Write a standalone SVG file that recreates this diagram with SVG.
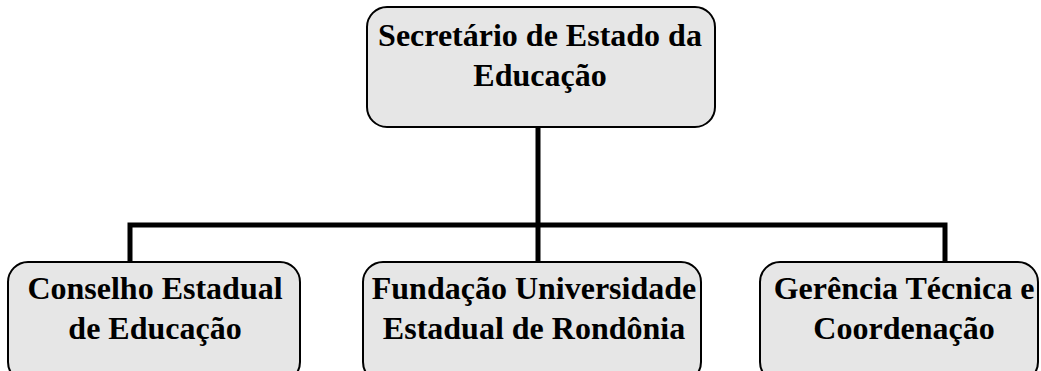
<svg xmlns="http://www.w3.org/2000/svg" width="1041" height="371" viewBox="0 0 1041 371">
<style>
.box{fill:#e6e6e6;stroke:#000;stroke-width:2}
.t{font-family:"Liberation Serif","Times New Roman",serif;font-weight:bold;font-size:32px;fill:#000;text-anchor:middle}
.c{stroke:#000;stroke-width:5;fill:none}
</style>
<g id="connectors">
<path class="c" d="M538 127 V262 M130 262 V225 H945 V262"/>
</g>
<g id="n-secretario">
<rect class="box" x="367" y="7" width="348" height="120" rx="20"/>
<text class="t" x="540" y="46">Secretário de Estado da</text>
<text class="t" x="540" y="86">Educação</text>
</g>
<g id="n-conselho">
<rect class="box" x="8" y="262" width="292" height="120" rx="20"/>
<text class="t" x="155" y="299">Conselho Estadual</text>
<text class="t" x="155" y="339">de Educação</text>
</g>
<g id="n-fundacao">
<rect class="box" x="363" y="262" width="338" height="120" rx="20"/>
<text class="t" x="534" y="299">Fundação Universidade</text>
<text class="t" x="534" y="339">Estadual de Rondônia</text>
</g>
<g id="n-gerencia">
<rect class="box" x="760" y="262" width="278" height="120" rx="20"/>
<text class="t" x="904" y="299">Gerência Técnica e</text>
<text class="t" x="904" y="339">Coordenação</text>
</g>
</svg>
